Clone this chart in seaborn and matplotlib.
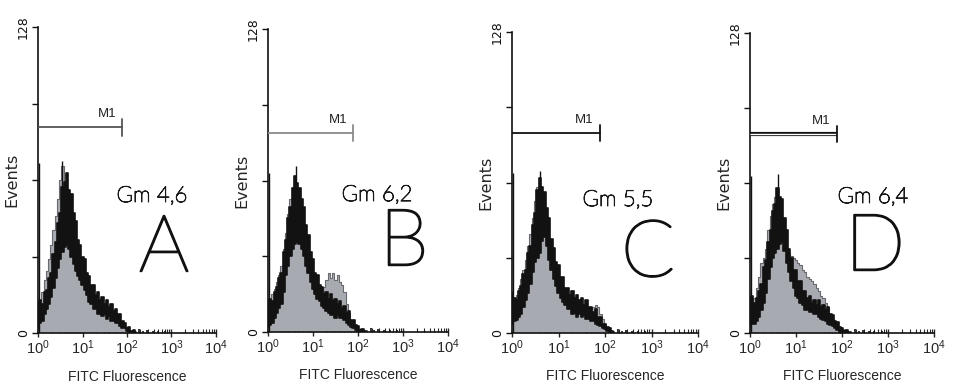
import matplotlib

matplotlib.use("Agg")
import matplotlib.patheffects as pe
import matplotlib.pyplot as plt
import numpy as np
import pandas as pd
import seaborn as sns
from matplotlib.ticker import LogLocator, NullFormatter

# histogram channels, log10 of fluorescence
LOG_CHANNELS = np.round(np.arange(0, 2.21, 0.05), 2)

PANELS = ["A", "B", "C", "D"]
GM_LABELS = ["Gm 4,6", "Gm 6,2", "Gm 5,5", "Gm 6,4"]
XTICKS = [1, 10, 100, 1000, 10000]
XTICK_LABELS = [r"$\mathdefault{10^{0}}$", r"$\mathdefault{10^{1}}$", r"$\mathdefault{10^{2}}$",
                r"$\mathdefault{10^{3}}$", r"$\mathdefault{10^{4}}$"]
YTICKS = [0, 32, 64, 96, 128]
YTICK_LABELS = ["0", "", "", "", "128"]

# gray filled histogram (top), black histogram band (low / high edge)
A_GRAY = [14, 13, 17, 22, 26, 31, 37, 43, 49, 56, 64, 70, 60, 52, 44, 38, 33, 29, 26, 24, 22, 20, 18,
          15, 13, 12, 11, 10, 9, 9, 9, 8, 8, 7, 6, 6, 5, 4, 3, 2, 1.5, 1, 0.5, 0, 0]
A_LO = [2, 4, 5, 8, 10, 12, 15, 19, 23, 27, 31, 34, 36, 37, 35, 32, 29, 26, 24, 22, 20, 18, 16,
        13, 12, 10, 10, 8, 8, 7, 8, 6, 7, 5, 5, 4, 4, 3, 2, 2, 1, 0.5, 0, 0, 0]
A_HI = [11, 14, 12, 17, 18, 23, 25, 33, 38, 46, 50, 61, 63, 67, 60, 58, 50, 47, 39, 37, 32, 31, 25,
        24, 20, 20, 16, 17, 14, 15, 12, 14, 11, 12, 9, 10, 8, 8, 5, 4, 2, 2.5, 1, 1.2, 0.3]

B_GRAY = [13, 12, 16, 18, 21, 24, 28, 35, 42, 50, 56, 58, 45, 40, 39, 37, 34, 30, 27, 23, 20, 18, 16,
          15, 17, 19, 22, 25, 23, 25, 22, 24, 21, 20, 17, 12, 8, 5, 3, 2, 1, 0.5, 0, 0, 0]
B_LO = [2, 3, 4, 6, 8, 10, 12, 17, 24, 28, 32, 35, 37, 38, 37, 35, 32, 28, 25, 21, 18, 16, 14,
        13, 11, 10, 9, 8, 7, 7, 6, 7, 6, 6, 5, 4, 3, 2, 1.5, 1, 0.5, 0, 0, 0, 0]
B_HI = [12, 14, 13, 17, 19, 23, 25, 34, 39, 48, 53, 61, 66, 63, 61, 56, 53, 45, 41, 34, 31, 25, 24,
        20, 19, 16, 17, 14, 16, 13, 14, 12, 13, 10, 11, 8, 9, 5, 5, 3, 2.5, 1, 1.2, 0.4, 0.3]

C_GRAY = [15, 14, 16, 19, 23, 27, 31, 37, 42, 49, 56, 62, 55, 47, 44, 40, 35, 30, 26, 23, 20, 18, 15,
          13, 12, 11, 10, 9, 9, 9, 9, 8, 8, 9, 10, 11, 12, 11, 8, 6, 4, 2, 1, 0.5, 0]
C_LO = [4, 5, 5.5, 7, 8, 11, 14, 17, 21, 26, 30, 32, 34, 39, 41, 37, 31, 27, 23, 20, 17, 15, 13,
        12, 10, 10, 8, 8.5, 7, 8, 7, 7.5, 6, 6, 5, 5, 4, 3.5, 3, 2, 1.5, 1, 0, 0, 0]
C_HI = [17, 15, 14, 18, 20, 25, 27, 34, 37, 46, 51, 61, 66, 62, 60, 53, 49, 40, 36, 30, 29, 24, 24,
        19, 19, 16, 18, 15, 16, 14, 15, 12, 14, 11, 11, 9, 10, 7, 7, 4, 4, 2.5, 2, 0.8, 0.5]

D_GRAY = [16, 14, 15, 19, 24, 30, 32, 36, 44, 50, 55, 58, 50, 44, 40, 38, 36, 34, 33, 32, 31, 30, 29,
          27, 26, 24, 23, 22, 21, 19, 18, 16, 15, 13, 11, 8, 6, 4, 3, 2, 1.5, 1, 0.5, 0, 0]
D_LO = [3, 4, 4, 5, 7, 10, 13, 17, 23, 28, 32, 34, 36, 38, 39, 35, 30, 26, 22, 19, 16, 15, 13,
        12, 10, 10, 9, 9, 8, 8, 7, 6, 5.6, 5, 4, 3.5, 3, 2, 1.3, 0.5, 0, 0, 0, 0, 0]
D_HI = [14, 16, 13, 15, 18, 21, 28, 31, 39, 44, 52, 55, 62, 58, 57, 49, 44, 36, 32, 27, 27, 22, 22,
        18, 18, 15, 16, 13, 14, 12, 14, 11, 12, 10, 11, 8, 7.5, 5, 4.5, 2.5, 2, 1, 1.2, 0.4, 0.3]

GRAY_TOPS = [A_GRAY, B_GRAY, C_GRAY, D_GRAY]
BAND_LOWS = [A_LO, B_LO, C_LO, D_LO]
BAND_HIGHS = [A_HI, B_HI, C_HI, D_HI]

# single tall channels: first channel pile-up and top of the peak
FIRST_CHANNEL_COUNTS = [71, 67, 68, 67]
PEAK_SPIKE_LOG = [0.55, 0.62, 0.61, 0.61]
PEAK_SPIKE_COUNTS = [72, 70, 69, 68]

# scattered single events above 10^2 (log position, count)
TAIL_LOG = [2.28, 2.36, 2.45, 2.58, 2.7, 2.86]
TAIL_COUNTS = [1.5, 1, 1.2, 0.8, 1, 0.8]

# M1 marker: level (events) and right end (fluorescence)
M1_LEVELS = [86, 84, 85, 85]
M1_ENDS = [77, 78, 78, 78]

# layout, in pixels of the 956x387 picture: axis x0, x1, top (128), baseline (0)
W, H = 956, 387
AX_PX = [(38, 216, 27, 333), (268, 448, 29, 332), (512, 698, 32, 333), (750, 934, 33, 333)]
GM_PX = [(152, 196), (377, 195), (618, 200), (873, 197)]
LETTER_PX = [(164, 250), (404, 244), (648, 255), (875, 249)]
M1_COLORS = ["#555555", "#8a8a8a", "#111111", "double"]

GRAY = "#a8aab1"
GRAY_EDGE = "#6a6b70"
BLACK = "#121212"
NARROW = ["Liberation Sans Narrow", "Liberation Sans", "DejaVu Sans"]
GOTHIC = ["Lato", "DejaVu Sans"]


def draw_panel(ax, i):
    x = 10.0 ** LOG_CHANNELS
    df = pd.DataFrame({"x": x, "gray": GRAY_TOPS[i], "lo": BAND_LOWS[i], "hi": BAND_HIGHS[i]})

    ax.set_xscale("log")
    ax.fill_between(df["x"], 0, df["gray"], step="mid", color=GRAY, lw=0, zorder=1)
    sns.lineplot(data=df, x="x", y="gray", drawstyle="steps-mid", color=GRAY_EDGE, lw=0.8,
                 ax=ax, zorder=2, legend=False)
    ax.fill_between(df["x"], df["lo"], df["hi"], step="mid", color=BLACK, lw=0, zorder=3)
    sns.lineplot(data=df, x="x", y="hi", drawstyle="steps-mid", color=BLACK, lw=1.2, ax=ax, zorder=3)
    sns.lineplot(data=df, x="x", y="lo", drawstyle="steps-mid", color=BLACK, lw=1.2, ax=ax, zorder=3)

    ax.vlines([1.05], 0, FIRST_CHANNEL_COUNTS[i], color=BLACK, lw=1.0, zorder=4)
    ax.vlines([10 ** PEAK_SPIKE_LOG[i]], PEAK_SPIKE_COUNTS[i] - 15, PEAK_SPIKE_COUNTS[i],
              color=BLACK, lw=1.0, zorder=4)
    ax.vlines(10.0 ** np.array(TAIL_LOG), 0, TAIL_COUNTS, color=BLACK, lw=1.2, zorder=4)

    # M1 marker
    lvl, end = M1_LEVELS[i], M1_ENDS[i]
    if M1_COLORS[i] == "double":
        ax.plot([1, end], [lvl, lvl], color=BLACK, lw=3.0, solid_capstyle="butt", zorder=4)
        ax.plot([1, end], [lvl, lvl], color="white", lw=1.0, solid_capstyle="butt", zorder=5)
        cap_color = BLACK
    else:
        ax.plot([1, end], [lvl, lvl], color=M1_COLORS[i], lw=1.3, zorder=4)
        cap_color = M1_COLORS[i]
    ax.plot([end, end], [lvl - 3.5, lvl + 3.5], color=cap_color, lw=1.3, zorder=5)
    ax.text(10 ** 1.55, lvl + 3, "M1", ha="center", va="bottom", fontsize=9.5,
            family=NARROW, color="#222222")

    ax.set_xlim(1, 1e4)
    ax.set_ylim(0, 128)
    ax.set_xlabel("")
    ax.set_ylabel("")
    sns.despine(ax=ax)
    for side in ("left", "bottom"):
        ax.spines[side].set_color("#111111")
        ax.spines[side].set_linewidth(1.2)

    ax.set_yticks(YTICKS, labels=YTICK_LABELS, rotation=90, va="center", fontsize=9)
    ax.tick_params(axis="y", direction="out", length=4, width=1, pad=2, colors="#111111")
    ax.set_xticks(XTICKS, labels=XTICK_LABELS, fontsize=10.5, family=NARROW)
    ax.xaxis.set_minor_locator(LogLocator(base=10, subs=range(2, 10), numticks=20))
    ax.xaxis.set_minor_formatter(NullFormatter())
    ax.tick_params(axis="x", which="major", direction="inout", length=6, width=1, pad=1)
    ax.tick_params(axis="x", which="minor", direction="in", length=3, width=0.8)

    ax.text(0.5, -0.143, "FITC Fluorescence", transform=ax.transAxes, ha="center", va="center",
            fontsize=10, family=NARROW)
    ax.annotate("Events", xy=(0, 0.5), xycoords="axes fraction", xytext=(-19, 0),
                textcoords="offset points", rotation=90, ha="center", va="center", fontsize=11.5)


def main() -> None:
    sns.set_style("ticks")
    plt.rcParams["font.family"] = ["DejaVu Sans"]
    fig = plt.figure(figsize=(W / 100, H / 100), dpi=100)

    for i, panel in enumerate(PANELS):
        x0, x1, top, base = AX_PX[i]
        ax = fig.add_axes([x0 / W, (H - base) / H, (x1 - x0) / W, (base - top) / H])
        draw_panel(ax, i)

        gx, gy = GM_PX[i]
        fig.text(gx / W, 1 - gy / H, GM_LABELS[i], ha="center", va="center", fontsize=16,
                 family=GOTHIC, fontweight="light", color="#1a1a1a",
                 path_effects=[pe.withStroke(linewidth=0.7, foreground="#1a1a1a")])
        lx, ly = LETTER_PX[i]
        fig.text(lx / W, 1 - ly / H, panel, ha="center", va="center", fontsize=57,
                 family=GOTHIC, fontweight="light", color="#111111",
                 path_effects=[pe.withStroke(linewidth=1.4, foreground="#111111")])

    fig.savefig("out.png", dpi=100)
    plt.close(fig)


if __name__ == "__main__":
    main()
